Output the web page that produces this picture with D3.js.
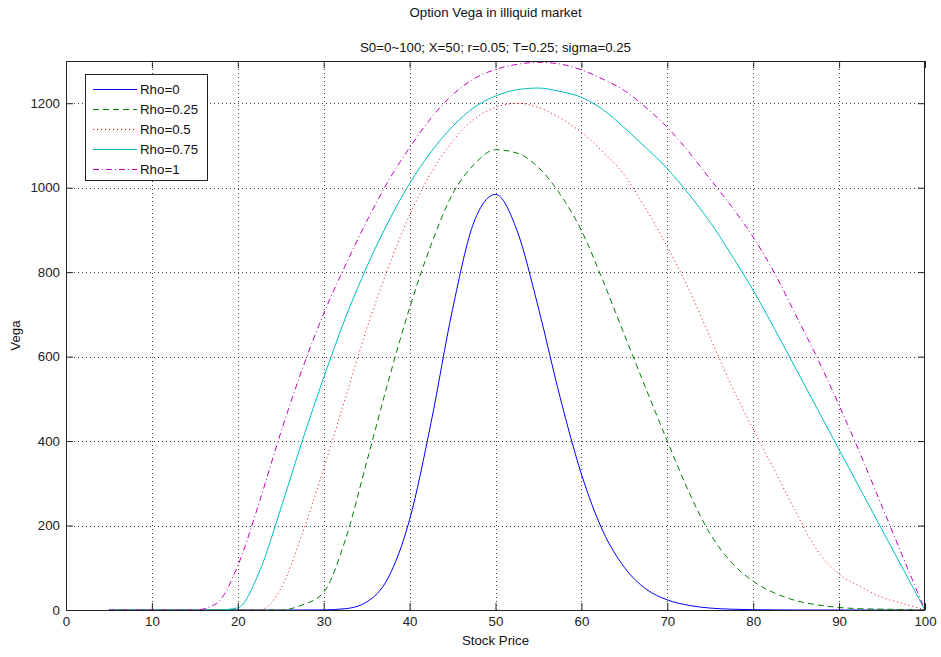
<!DOCTYPE html>
<html>
<head>
<meta charset="utf-8">
<script src="https://cdn.jsdelivr.net/npm/d3@7"></script>
<style>
  html, body { margin: 0; padding: 0; background: #ffffff; }
  svg { display: block; font-family: "Liberation Sans", Arial, Helvetica, sans-serif; }
</style>
</head>
<body>
<svg id="chart" width="941" height="657"></svg>
<script>
// ---- data ----
const stockPrice = [5, 7.5, 10, 12.5, 15, 17.5, 20, 22.5, 25, 27.5, 30, 32.5, 35, 37.5, 40, 42.5, 45, 47.5, 50,
                    52.5, 55, 57.5, 60, 62.5, 65, 67.5, 70, 72.5, 75, 77.5, 80, 82.5, 85, 87.5, 90, 92.5, 95, 97.5, 100];
const vegaRho0    = [0, 0, 0, 0, 0, 0, 0, 0, 0, 0, 0.3, 3, 19, 76, 214, 444, 712, 919, 984,
                     899, 715, 505, 322, 187, 101, 50, 24, 11, 4.5, 1.9, 0.7, 0.3, 0, 0, 0, 0, 0, 0, 0];
const vegaRho025  = [0, 0, 0, 0, 0, 0, 0, 0, 0, 12, 42, 165, 350, 540, 715, 865, 985, 1055, 1090,
                     1082, 1048, 985, 899, 780, 652, 525, 400, 280, 180, 112, 68, 40, 22, 12, 6, 3, 2, 1, 0];
const vegaRho05   = [0, 0, 0, 0, 0, 0, 0, 0, 50, 180, 335, 500, 665, 810, 935, 1035, 1110, 1162, 1190,
                     1200, 1190, 1165, 1131, 1085, 1030, 950, 860, 760, 645, 530, 428, 330, 230, 140, 85, 55, 30, 15, 0];
const vegaRho075  = [0, 0, 0, 0, 0, 0, 5, 90, 240, 400, 550, 690, 812, 918, 1010, 1085, 1145, 1190, 1217,
                     1232, 1236, 1228, 1214, 1185, 1142, 1095, 1045, 985, 918, 840, 757, 665, 570, 475, 380, 285, 190, 95, 0];
const vegaRho1    = [0, 0, 0, 0, 0, 15, 105, 255, 420, 570, 702, 815, 920, 1015, 1095, 1165, 1220, 1258, 1280,
                     1292, 1297, 1293, 1279, 1257, 1230, 1190, 1143, 1085, 1020, 955, 883, 797, 697, 595, 485, 368, 245, 122, 0];
const seriesNames = ["Rho=0", "Rho=0.25", "Rho=0.5", "Rho=0.75", "Rho=1"];
const seriesValues = [vegaRho0, vegaRho025, vegaRho05, vegaRho075, vegaRho1];
const xTicks = [0, 10, 20, 30, 40, 50, 60, 70, 80, 90, 100];
const yTicks = [0, 200, 400, 600, 800, 1000, 1200];
const titleText = "Option Vega in illiquid market";
const subtitleText = "S0=0~100; X=50; r=0.05; T=0.25; sigma=0.25";
const xLabel = "Stock Price";
const yLabel = "Vega";

// ---- styles ----
const colors = ["#0000ff", "#008000", "#ff0000", "#00bfbf", "#bf00bf"];
const dashes = ["none", "6,4", "1,3", "none", "6,3,1,3"];

const svg = d3.select("#chart");
const L = 66, T = 61, R = 925, B = 610;
const FS = 13.3;

const x = d3.scaleLinear().domain([0, 100]).range([L, R]);
const y = d3.scaleLinear().domain([0, 1300]).range([B, T]);

svg.append("rect").attr("x", 0).attr("y", 0).attr("width", 941).attr("height", 657).attr("fill", "#fff");

// grid
const grid = svg.append("g").style("stroke", "#222").style("stroke-width", 1).style("stroke-dasharray", "1,3").attr("opacity", 0.85);
xTicks.filter(v => v > 0 && v < 100).forEach(v => {
  grid.append("line").attr("x1", Math.round(x(v)) + 0.5).attr("x2", Math.round(x(v)) + 0.5)
      .attr("y1", T).attr("y2", B);
});
yTicks.filter(v => v > 0).forEach(v => {
  grid.append("line").attr("y1", Math.round(y(v)) + 0.5).attr("y2", Math.round(y(v)) + 0.5)
      .attr("x1", L).attr("x2", R);
});

// curves
svg.append("defs").append("clipPath").attr("id", "clip")
  .append("rect").attr("x", L).attr("y", T).attr("width", R - L).attr("height", B - T);
const line = d3.line().x((d, i) => x(stockPrice[i])).y(d => y(d)).curve(d3.curveMonotoneX);
const curves = svg.append("g").attr("clip-path", "url(#clip)");
seriesValues.forEach((vals, k) => {
  curves.append("path").datum(vals).attr("d", line)
    .style("fill", "none").style("stroke", colors[k]).style("stroke-width", 1)
    .style("stroke-dasharray", dashes[k]);
});

// axes
const tickLen = 7;
svg.append("g").attr("class", "ax").attr("transform", `translate(0,${B})`)
  .call(d3.axisBottom(x).tickValues(xTicks).tickSize(-tickLen).tickPadding(7).tickFormat(d3.format("d")));
svg.append("g").attr("class", "ax").attr("transform", `translate(${L},0)`)
  .call(d3.axisLeft(y).tickValues(yTicks).tickSize(-tickLen).tickPadding(6).tickFormat(d3.format("d")));
svg.append("g").attr("class", "ax").attr("transform", `translate(0,${T})`)
  .call(d3.axisTop(x).tickValues(xTicks).tickSize(-tickLen).tickFormat(""));
svg.append("g").attr("class", "ax").attr("transform", `translate(${R},0)`)
  .call(d3.axisRight(y).tickValues(yTicks).tickSize(-tickLen).tickFormat(""));
svg.selectAll(".ax .domain").remove();
svg.selectAll(".ax .tick line").style("stroke", "#222");
svg.selectAll(".ax .tick text").style("fill", "#222").style("font-size", FS + "px")
  .style("font-family", "'Liberation Sans', Arial, sans-serif");

// box
svg.append("rect").attr("x", L + 0.5).attr("y", T + 0.5).attr("width", R - L - 1).attr("height", B - T)
  .style("fill", "none").style("stroke", "#222").style("stroke-width", 1);

// titles
svg.append("text").attr("x", (L + R) / 2).attr("y", 17).attr("text-anchor", "middle")
  .style("font-size", FS + "px").style("fill", "#111").text(titleText);
svg.append("text").attr("x", (L + R) / 2).attr("y", 52).attr("text-anchor", "middle")
  .style("font-size", FS + "px").style("fill", "#111").text(subtitleText);
svg.append("text").attr("x", (L + R) / 2).attr("y", 645).attr("text-anchor", "middle")
  .style("font-size", FS + "px").style("fill", "#111").text(xLabel);
svg.append("text").attr("transform", `translate(20,${(T + B) / 2}) rotate(-90)`).attr("text-anchor", "middle")
  .style("font-size", FS + "px").style("fill", "#111").text(yLabel);

// legend
const lg = svg.append("g");
lg.append("rect").attr("x", 85.5).attr("y", 74.5).attr("width", 122).attr("height", 106)
  .style("fill", "#fff").style("stroke", "#222").style("stroke-width", 1);
seriesNames.forEach((name, k) => {
  const cy = 89 + k * 20;
  lg.append("path").attr("d", `M93,${cy + 0.5}H137`)
    .style("fill", "none").style("stroke", colors[k]).style("stroke-width", 1)
    .style("stroke-dasharray", dashes[k]);
  lg.append("text").attr("x", 140).attr("y", cy + 4.7).style("font-size", FS + "px")
    .style("fill", "#111").text(name);
});
</script>
</body>
</html>
